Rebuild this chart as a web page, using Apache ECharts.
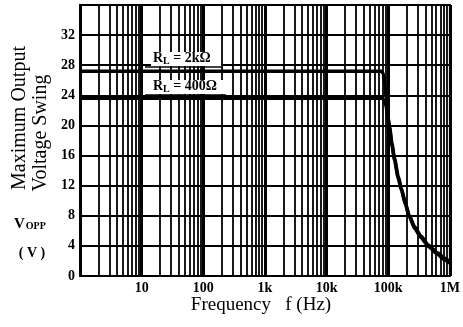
<!DOCTYPE html>
<html>
<head>
<meta charset="utf-8">
<script src="https://cdn.jsdelivr.net/npm/echarts@6/dist/echarts.min.js"></script>
<style>
  html, body { margin: 0; padding: 0; background: #fff; }
  #chart { width: 463px; height: 327px; }
</style>
</head>
<body>
<div id="chart"></div>
<script>
// frequency (Hz) vs. max output voltage swing (Vopp)
var freq2k   = [1, 10, 100, 1000, 10000, 50000, 78000, 84000, 88000, 92000, 96000, 100000, 105000, 115000, 126000, 145000, 163000, 190000, 218000, 270000, 339000, 450000, 630000, 800000, 1000000];
var swing2k  = [27.2, 27.2, 27.2, 27.2, 27.2, 27.2, 27.2, 26.8, 25.6, 23.9, 22.3, 21.0, 19.9, 17.6, 15.7, 13.3, 11.7, 9.7, 8.1, 6.5, 5.3, 4.1, 3.1, 2.4, 1.9];
var freq400  = [1, 10, 100, 1000, 10000, 50000, 80000, 86000, 92000, 96000, 100000, 105000, 115000, 126000, 145000, 163000, 190000, 218000, 270000, 339000, 450000, 630000, 800000, 1000000];
var swing400 = [23.6, 23.6, 23.6, 23.6, 23.6, 23.6, 23.6, 23.3, 22.6, 21.8, 20.6, 19.6, 17.3, 15.4, 13.0, 11.4, 9.5, 7.9, 6.3, 5.1, 3.9, 2.9, 2.2, 1.7];

var xTickLabels = { 10: '10', 100: '100', 1000: '1k', 10000: '10k', 100000: '100k', 1000000: '1M' };
var yTicks = [0, 4, 8, 12, 16, 20, 24, 28, 32];

// minor log grid lines: 2..9 within each decade
var minorFreqs = [];
[1, 10, 100, 1000, 10000, 100000].forEach(function (d) {
  for (var m = 2; m <= 9; m++) minorFreqs.push(d * m);
});

function pairs(xs, ys) {
  return xs.map(function (x, i) { return [x, ys[i]]; });
}

var serif = '"Liberation Serif", "DejaVu Serif", serif';
var labelRich = {
  a: { fontFamily: serif, fontSize: 14, fontWeight: 'bold', color: '#000' },
  s: { fontFamily: serif, fontSize: 10, fontWeight: 'bold', color: '#000', padding: [5, 0, 0, 0] }
};

var chart = echarts.init(document.getElementById('chart'));
chart.setOption({
  animation: false,
  backgroundColor: '#fff',
  grid: {
    left: 80, right: 3, top: 5, bottom: 51,
    show: true, borderColor: '#000', borderWidth: 2
  },
  xAxis: {
    type: 'log',
    logBase: 10,
    min: 1,
    max: 1000000,
    axisLine: { show: false },
    axisTick: { show: false },
    axisLabel: {
      color: '#000', fontFamily: serif, fontWeight: 'bold', fontSize: 14, margin: 5,
      formatter: function (v) { return xTickLabels[Math.round(v)] || ''; }
    },
    splitLine: { show: true, lineStyle: { color: '#000', width: 3 } }
  },
  yAxis: {
    type: 'value',
    min: 0,
    max: 36,
    interval: 4,
    axisLine: { show: false },
    axisTick: { show: false },
    axisLabel: {
      color: '#000', fontFamily: serif, fontWeight: 'bold', fontSize: 14, margin: 5,
      formatter: function (v) { return yTicks.indexOf(v) >= 0 ? String(v) : ''; }
    },
    splitLine: { show: true, lineStyle: { color: '#000', width: 2 } }
  },
  series: [
    {
      name: 'grid',
      type: 'line',
      data: [],
      silent: true,
      markLine: {
        silent: true,
        symbol: 'none',
        label: { show: false },
        lineStyle: { color: '#000', width: 1.8, type: 'solid' },
        data: minorFreqs.map(function (f) { return { xAxis: f }; })
      }
    },
    {
      name: 'RL=2kΩ',
      type: 'line',
      data: pairs(freq2k, swing2k),
      smooth: 0.2,
      smoothMonotone: 'x',
      showSymbol: false,
      lineStyle: { color: '#000', width: 3.5 }
    },
    {
      name: 'RL=400Ω',
      type: 'line',
      data: pairs(freq400, swing400),
      smooth: 0.2,
      smoothMonotone: 'x',
      showSymbol: false,
      lineStyle: { color: '#000', width: 3.5 }
    }
  ],
  graphic: [
    {
      type: 'text', rotation: Math.PI / 2, x: 20, y: 118,
      style: { text: 'Maximum Output', font: '20px ' + serif, fill: '#000', textAlign: 'center', textVerticalAlign: 'middle' }
    },
    {
      type: 'text', rotation: Math.PI / 2, x: 41, y: 133,
      style: { text: 'Voltage Swing', font: '20px ' + serif, fill: '#000', textAlign: 'center', textVerticalAlign: 'middle' }
    },
    {
      type: 'text', x: 14, y: 217,
      style: {
        text: '{v|V}{s|OPP}',
        rich: {
          v: { fontFamily: serif, fontSize: 15, fontWeight: 'bold', color: '#000' },
          s: { fontFamily: serif, fontSize: 10, fontWeight: 'bold', color: '#000', padding: [4, 0, 0, 1] }
        }
      }
    },
    {
      type: 'text', x: 32, y: 253,
      style: { text: '( V )', font: 'bold 14px ' + serif, fill: '#000', textAlign: 'center', textVerticalAlign: 'middle' }
    },
    {
      type: 'text', x: 261, y: 305,
      style: { text: 'Frequency   f (Hz)', font: '19px ' + serif, fill: '#000', textAlign: 'center', textVerticalAlign: 'middle' }
    },
    // curve labels
    {
      type: 'rect', z: 100, shape: { x: 151, y: 52, width: 70, height: 14 }, style: { fill: '#fff' }
    },
    {
      type: 'text', z: 101, x: 153, y: 51,
      style: { text: '{a|R}{s|L}{a| = 2kΩ}', rich: labelRich }
    },
    {
      type: 'line', z: 101, shape: { x1: 145, y1: 67, x2: 221, y2: 67 }, style: { stroke: '#000', lineWidth: 1.5 }
    },
    {
      type: 'rect', z: 100, shape: { x: 151, y: 80, width: 76, height: 14 }, style: { fill: '#fff' }
    },
    {
      type: 'text', z: 101, x: 153, y: 79,
      style: { text: '{a|R}{s|L}{a| = 400Ω}', rich: labelRich }
    },
    {
      type: 'line', z: 101, shape: { x1: 145, y1: 95, x2: 226, y2: 95 }, style: { stroke: '#000', lineWidth: 1.5 }
    }
  ]
});
</script>
</body>
</html>
